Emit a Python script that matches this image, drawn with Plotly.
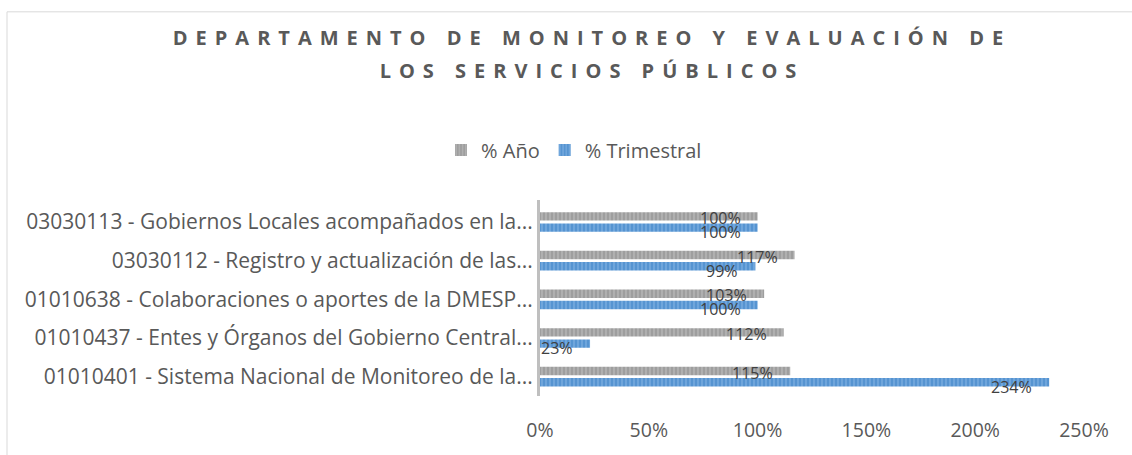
import plotly.graph_objects as go

categories = [
    "03030113 - Gobiernos Locales acompañados en la...",
    "03030112 - Registro y actualización de las...",
    "01010638 - Colaboraciones o aportes de la DMESP...",
    "01010437 - Entes y Órganos del Gobierno Central...",
    "01010401 - Sistema Nacional de Monitoreo de la...",
]
pct_anio = [100, 117, 103, 112, 115]
pct_trimestral = [100, 99, 100, 23, 234]
x_ticks = [0, 50, 100, 150, 200, 250]
x_tick_labels = ["0%", "50%", "100%", "150%", "200%", "250%"]

title_text = "DEPARTAMENTO DE MONITOREO Y EVALUACIÓN DE<br>LOS SERVICIOS PÚBLICOS"
FONT = "Open Sans"
W, H = 1132, 455
L, R, T, B = 540, 48, 200, 55

fig = go.Figure()
fig.add_trace(go.Bar(
    name="% Año", y=categories, x=pct_anio, orientation="h",
    marker=dict(color="#a5a5a5", line=dict(width=0),
                pattern=dict(shape="|", size=4, solidity=0.45,
                             fgcolor="#c4c4c4", bgcolor="#9e9e9e")),
    hoverinfo="x+y",
))
fig.add_trace(go.Bar(
    name="% Trimestral", y=categories, x=pct_trimestral, orientation="h",
    marker=dict(color="#5b9bd5", line=dict(width=0),
                pattern=dict(shape="|", size=4, solidity=0.45,
                             fgcolor="#8dbbe8", bgcolor="#5694d1")),
    hoverinfo="x+y",
))

annotations = []
for vals, ys in ((pct_anio, 4), (pct_trimestral, -10)):
    for c, v in zip(categories, vals):
        annotations.append(dict(
            x=v, y=c, xref="x", yref="y", text=f"{v}%", showarrow=False,
            xanchor="right", yanchor="middle", xshift=-16, yshift=ys,
            borderpad=0,
            font=dict(family=FONT, size=16, color="#404040"),
        ))

pw = W - L - R
ph = H - T - B
shapes = [dict(
    type="rect", xref="paper", yref="paper",
    x0=(7 - L) / pw, x1=(W + 20 - L) / pw,
    y0=(H - B - (H + 20)) / ph, y1=(H - B - 8) / ph,
    line=dict(color="#d9d9d9", width=1), fillcolor="rgba(0,0,0,0)", layer="below",
)]

fig.update_layout(
    width=W, height=H,
    margin=dict(l=L, r=R, t=T, b=B),
    paper_bgcolor="white", plot_bgcolor="white",
    barmode="group", bargap=0.42, bargroupgap=0.25,
    title=dict(text=title_text, x=592 / W, xanchor="center", xref="container",
               y=1 - 45 / H, yanchor="top", yref="container",
               font=dict(family=FONT, size=20, color="#595959", weight="bold")),
    legend=dict(orientation="h", x=(574 - L) / pw, xanchor="center",
                y=(H - B - 149) / ph, yanchor="middle",
                font=dict(family=FONT, size=20, color="#595959"),
                itemclick=False, itemdoubleclick=False),
    xaxis=dict(range=[0, 250], tickvals=x_ticks, ticktext=x_tick_labels,
               showgrid=False, zeroline=False, showline=False, ticks="",
               ticklabelstandoff=20,
               tickfont=dict(family=FONT, size=19.5, color="#595959")),
    yaxis=dict(type="category", autorange="reversed", showline=True,
               linecolor="#bfbfbf", linewidth=3, showgrid=False, zeroline=False,
               ticks="", ticklabelstandoff=0,
               tickfont=dict(family=FONT, size=21, color="#595959")),
    annotations=annotations,
    shapes=shapes,
    showlegend=True,
)

post = """
document.body.style.margin = '0';
document.documentElement.style.margin = '0';
var t = document.querySelectorAll('.gtitle');
t.forEach(function(e){
  e.style.letterSpacing = '8px';
  var lines = e.querySelectorAll('tspan.line');
  if (lines.length > 1) { lines[1].setAttribute('dy', '33px'); }
});
"""
fig.write_html("out.html", post_script=post, config={"displayModeBar": False})
